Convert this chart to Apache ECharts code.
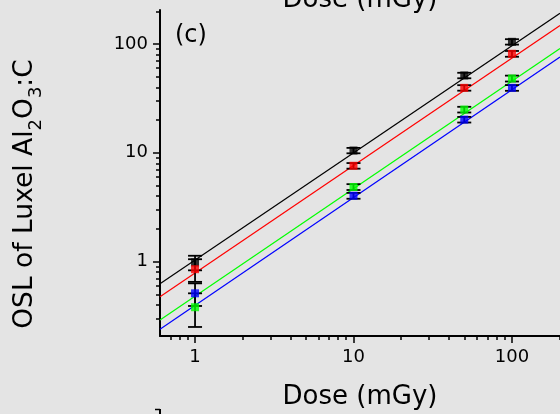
<!DOCTYPE html>
<html><head><meta charset="utf-8">
<script src="https://cdn.jsdelivr.net/npm/echarts@6/dist/echarts.min.js"></script>
<style>html,body{margin:0;padding:0;background:#e4e4e4}#c{width:560px;height:414px}</style>
</head><body><div id="c"></div>
<script>
// ---- data ----
const doses = [1, 10, 50, 100];
const oslBlack = [0.98, 10.5, 51.5, 105];
const oslRed   = [0.85, 7.6, 39.6, 81.5];
const oslGreen = [0.38, 4.85, 25.0, 48.3];
const oslBlue  = [0.51, 4.03, 20.2, 39.6];
const errBlack = [0.15, 0.6, 3.0, 6.0];
const errRed   = [0.20, 0.45, 2.3, 5.0];
const errGreen = [0.13, 0.30, 1.5, 3.0];
const errBlue  = [0.12, 0.25, 1.2, 2.4];
const fitDose  = [0.601, 201];
const fitBlack = [0.624, 192];
const fitRed   = [0.475, 148];
const fitGreen = [0.290, 91];
const fitBlue  = [0.238, 76];
const xMajorTicks = [1, 10, 100];
const xMinorTicks = [0.7, 0.8, 0.9, 2, 3, 4, 5, 6, 7, 8, 9, 20, 30, 40, 50, 60, 70, 80, 90, 200];
const yMajorTicks = [1, 10, 100];
const yMinorTicks = [0.3, 0.4, 0.5, 0.6, 0.7, 0.8, 0.9, 2, 3, 4, 5, 6, 7, 8, 9, 20, 30, 40, 50, 60, 70, 80, 90, 200];
const xRange = [0.601, 201];
const yRange = [0.2065, 206];

const L = Math.log10;
const colors = {black: '#000000', red: '#ff0000', green: '#00ff00', blue: '#0000ff'};
const sets = [
  ['black', oslBlack, errBlack, fitBlack],
  ['red', oslRed, errRed, fitRed],
  ['green', oslGreen, errGreen, fitGreen],
  ['blue', oslBlue, errBlue, fitBlue]
];
const FONT = 'DejaVu Sans';
const fmt = v => String(Math.round(Math.pow(10, v)));

const series = [];
sets.forEach(([name, vals, errs, fit]) => {
  series.push({
    type: 'line', name: name + ' fit', xAxisIndex: 0, yAxisIndex: 0,
    data: fitDose.map((d, i) => [L(d), L(fit[i])]),
    showSymbol: false, silent: true, z: 2,
    lineStyle: {color: colors[name], width: 1.2}
  });
});
sets.forEach(([name, vals, errs]) => {
  series.push({
    type: 'custom', name: name + ' err', xAxisIndex: 0, yAxisIndex: 0, z: 3,
    data: doses.map((d, i) => [L(d), L(vals[i] - errs[i]), L(vals[i] + errs[i])]),
    renderItem: (params, api) => {
      const x = api.value(0);
      const pHi = api.coord([x, api.value(2)]);
      const pLo = api.coord([x, api.value(1)]);
      const w = 7;
      const st = {stroke: '#000', lineWidth: 1.8};
      return {type: 'group', children: [
        {type: 'line', shape: {x1: pHi[0], y1: pHi[1], x2: pLo[0], y2: pLo[1]}, style: st},
        {type: 'line', shape: {x1: pHi[0] - w, y1: pHi[1], x2: pHi[0] + w, y2: pHi[1]}, style: st},
        {type: 'line', shape: {x1: pLo[0] - w, y1: pLo[1], x2: pLo[0] + w, y2: pLo[1]}, style: st}
      ]};
    }
  });
});
sets.forEach(([name, vals]) => {
  series.push({
    type: 'scatter', name: name, xAxisIndex: 0, yAxisIndex: 0, z: 4,
    data: doses.map((d, i) => [L(d), L(vals[i])]),
    symbol: 'rect', symbolSize: [8, 8],
    itemStyle: {color: colors[name]}
  });
});

const chart = echarts.init(document.getElementById('c'), null, {renderer: 'canvas'});
const common = (range) => ({type: 'value', min: L(range[0]), max: L(range[1]), splitLine: {show: false}, scale: true});
chart.setOption({
  animation: false,
  backgroundColor: '#e4e4e4',
  grid: {left: 160, right: 0, top: 10, bottom: 78},
  xAxis: [
    Object.assign(common(xRange), {
      position: 'bottom',
      axisLine: {show: true, onZero: false, lineStyle: {color: '#000', width: 2}},
      axisTick: {show: true, customValues: xMajorTicks.map(L), length: 7, lineStyle: {color: '#000', width: 1.5}},
      axisLabel: {show: true, customValues: xMajorTicks.map(L), formatter: fmt, color: '#000', fontSize: 18, fontFamily: FONT, margin: 12}
    }),
    Object.assign(common(xRange), {
      position: 'bottom',
      axisLine: {show: false, onZero: false},
      axisTick: {show: true, customValues: xMinorTicks.map(L), length: 4, lineStyle: {color: '#000', width: 1.5}},
      axisLabel: {show: false}
    })
  ],
  yAxis: [
    Object.assign(common(yRange), {
      position: 'left',
      axisLine: {show: true, onZero: false, lineStyle: {color: '#000', width: 2}},
      axisTick: {show: true, customValues: yMajorTicks.map(L), length: 7, lineStyle: {color: '#000', width: 1.5}},
      axisLabel: {show: true, customValues: yMajorTicks.map(L), formatter: fmt, color: '#000', fontSize: 18, fontFamily: FONT, margin: 12}
    }),
    Object.assign(common(yRange), {
      position: 'left',
      axisLine: {show: false, onZero: false},
      axisTick: {show: true, customValues: yMinorTicks.map(L), length: 4, lineStyle: {color: '#000', width: 1.5}},
      axisLabel: {show: false}
    })
  ],
  series: series,
  graphic: [
    {type: 'text', x: 25, y: 194, rotation: Math.PI / 2, z: 10,
      style: {text: 'OSL of Luxel Al{s|2}O{s|3}:C', fill: '#000', fontSize: 26.5, fontFamily: FONT,
        lineHeight: 40, align: 'center', verticalAlign: 'middle',
        rich: {s: {fontSize: 18, lineHeight: 18, verticalAlign: 'bottom', fontFamily: FONT, fill: '#000'}}}},
    {type: 'text', x: 360, y: 397, z: 10,
      style: {text: 'Dose (mGy)', fill: '#000', fontSize: 26, fontFamily: FONT, align: 'center', verticalAlign: 'middle'}},
    {type: 'text', x: 360, y: 0, z: 10,
      style: {text: 'Dose (mGy)', fill: '#000', fontSize: 26, fontFamily: FONT, align: 'center', verticalAlign: 'middle'}},
    {type: 'text', x: 175, y: 36, z: 10,
      style: {text: '(c)', fill: '#000', fontSize: 24, fontFamily: FONT, align: 'left', verticalAlign: 'middle'}},
    {type: 'line', z: 10, shape: {x1: 160, y1: 409, x2: 160, y2: 414}, style: {stroke: '#000', lineWidth: 2}},
    {type: 'line', z: 10, shape: {x1: 155, y1: 409.5, x2: 160, y2: 409.5}, style: {stroke: '#000', lineWidth: 1.5}}
  ]
});
</script></body></html>
